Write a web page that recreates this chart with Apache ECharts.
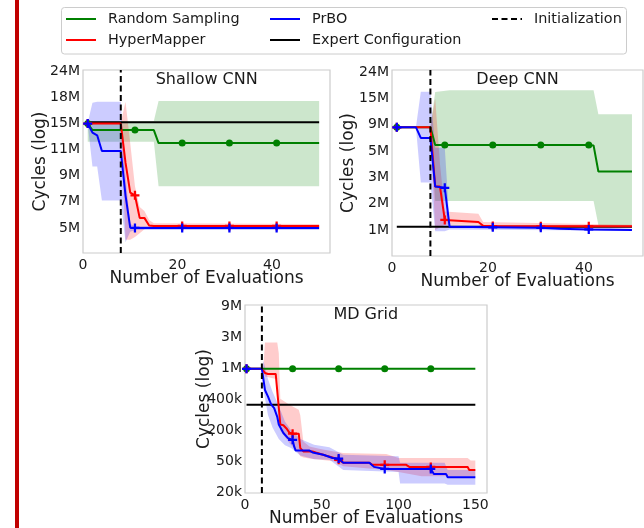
<!DOCTYPE html>
<html><head><meta charset="utf-8">
<script src="https://cdn.jsdelivr.net/npm/echarts@6.0.0/dist/echarts.min.js"></script>
<style>html,body{margin:0;padding:0;background:#fff}#c{width:644px;height:528px}</style>
</head><body><div id="c"></div>
<script>
// ---------------- DATA ----------------
// tick values (Shallow/Deep in millions of cycles, MD Grid in thousands)
const shallowTicks = [5, 7, 9, 11, 15, 18, 24];
const shallowTickLabels = ['5M', '7M', '9M', '11M', '15M', '18M', '24M'];
const deepTicks = [1, 2, 3, 5, 9, 15, 24];
const deepTickLabels = ['1M', '2M', '3M', '5M', '9M', '15M', '24M'];
const mdTicks = [20, 50, 200, 400, 1000, 3000, 9000];
const mdTickLabels = ['20k', '50k', '200k', '400k', '1M', '3M', '9M'];
const cnnXTicks = [0, 20, 40];
const mdXTicks = [0, 50, 100, 150];
const cnnMarkX = [1, 11, 21, 31, 41];
const mdMarkX = [1, 31, 61, 91, 121];
const shallowInit = 8, deepInit = 8, mdInit = 11;

// Shallow CNN  [evaluation, cycles(M)] ; bands [evaluation, low, high]
const shallowRandom = [[1,15.0],[2,14.0],[11,14.0],[15,14.0],[16,12.0],[21,12.0],[31,12.0],[41,12.0],[50,12.0]];
const shallowRandomBand = [[1,12.2,15.3],[15,12.2,15.3],[16,8.2,17.6],[50,8.2,17.6]];
const shallowHyper = [[1,15.0],[8,15.0],[9,10.0],[10,7.7],[11,7.5],[12,5.77],[13,5.77],[14,5.19],[15,5.15],[21,5.15],[31,5.15],[41,5.15],[50,5.15]];
const shallowHyperBand = [[1,14.9,15.1],[8,14.9,15.1],[9,4.1,17.5],[10,4.1,12.0],[11,4.3,8.2],[12,4.6,6.6],[13,4.9,6.3],[14,5.0,5.6],[15,5.05,5.35],[50,5.05,5.3]];
const shallowPrBO = [[1,15.0],[2,13.6],[3,13.2],[4,10.9],[8,10.9],[9,7.5],[10,5.02],[11,5.0],[21,5.0],[31,5.0],[41,5.0],[50,5.0]];
const shallowPrBOBand = [[1,14.9,15.1],[2,9.7,17.4],[3,9.7,17.5],[4,7.1,17.5],[8,7.1,17.5],[9,3.9,9.0],[10,4.7,5.3],[11,4.85,5.15],[50,4.85,5.15]];
const shallowExpert = [[1,15.15],[50,15.15]];

// Deep CNN
const deepRandom = [[1,8.6],[8,8.6],[9,5.9],[11,5.9],[21,5.9],[31,5.9],[41,5.9],[42,5.85],[43,3.44],[50,3.44]];
const deepRandomBand = [[8,8.6,8.6],[9,2.1,17.2],[12,2.1,17.8],[42,2.1,17.8],[43,1.19,11.4],[50,1.19,11.4]];
const deepHyper = [[1,8.6],[8,8.6],[9,2.65],[10,2.65],[11,1.38],[18,1.3],[19,1.16],[21,1.15],[31,1.14],[41,1.14],[50,1.14]];
const deepHyperBand = [[1,8.5,8.7],[8,8.5,8.7],[9,1.0,15.0],[10,1.1,4.0],[11,1.2,1.7],[18,1.2,1.62],[19,1.1,1.3],[50,1.08,1.2]];
const deepPrBO = [[1,8.6],[5,8.6],[6,7.0],[8,7.0],[9,2.65],[11,2.6],[12,1.12],[21,1.1],[31,1.08],[35,1.05],[41,1.02],[50,1.0]];
const deepPrBOBand = [[1,8.5,8.7],[5,8.5,8.7],[6,2.8,17.3],[8,2.8,17.3],[9,0.95,5.5],[11,0.95,5.5],[12,1.02,1.2],[50,0.97,1.05]];
const deepExpert = [[1,1.12],[50,1.12]];

// MD Grid (thousands of cycles)
const mdRandom = [[1,1000],[31,1000],[61,1000],[91,1000],[121,1000],[150,1000]];
const mdHyper = [[1,1000],[11,1000],[13,920],[15,900],[20,900],[23,240],[25,235],[27,215],[29,190],[31,186],[35,186],[36,116],[38,100],[44,100],[46,95],[53,79],[58,68],[61,59],[64,49],[81,49],[83,47],[91,47],[105,47],[107,45],[121,45],[145,45],[146,42],[150,42]];
const mdHyperBand = [[1,1000,1000],[11,1000,1000],[12,980,1100],[13,850,2700],[21,800,2700],[22,380,2000],[23,200,420],[29,140,368],[35,90,336],[36,76,300],[38,70,148],[42,65,124],[49,59,112],[58,52,100],[64,45.5,92],[92,42,87],[100,40,68],[115,36,68],[145,36,68],[147,36,56],[150,36,56]];
const mdPrBO = [[1,1000],[11,1000],[13,590],[15,460],[17,370],[19,346],[21,290],[22,240],[25,189],[28,164],[31,156],[32,124],[33,104],[42,104],[44,95],[51,84],[57,68],[61,65],[64,49],[81,49],[84,45],[91,43],[121,43],[123,38],[131,38],[132,35],[150,35]];
const mdPrBOBand = [[1,1000,1000],[11,1000,1000],[12,600,1500],[15,300,800],[18,220,550],[22,160,360],[26,130,260],[30,116,204],[36,80,160],[45,62,132],[55,59,120],[64,42,84],[100,40,76],[101,29,49],[130,29,49],[132,27.7,42],[150,27.7,42]];
const mdExpert = [[1,368],[150,368]];

// ---------------- HELPERS ----------------
const FONT = 'DejaVu Sans';
const TXT = '#1a1a1a';
function toIdx(v, ticks) {
  const n = ticks.length;
  let i;
  if (v <= ticks[0]) i = 0;
  else if (v >= ticks[n - 1]) i = n - 2;
  else { i = 0; while (!(v >= ticks[i] && v <= ticks[i + 1])) i++; }
  return i + (v - ticks[i]) / (ticks[i + 1] - ticks[i]);
}
const PLUS = 'path://M3,0h2v3h3v2h-3v3h-2v-3h-3v-2h3z';

const panels = [
  { grid: {left: 83, top: 70, width: 247, height: 183}, xMax: 52.3, yMin: -0.96, yMax: 6.05,
    ticks: shallowTicks, tickLabels: shallowTickLabels, xInterval: 20, marks: cnnMarkX, init: shallowInit,
    title: 'Shallow CNN', titlePos: [206.7, 80], yNameGap: 34,
    random: shallowRandom, randomBand: shallowRandomBand, hyper: shallowHyper, hyperBand: shallowHyperBand,
    prbo: shallowPrBO, prboBand: shallowPrBOBand, expert: shallowExpert },
  { grid: {left: 392, top: 70, width: 251, height: 186}, xMax: 52.3, yMin: -0.99, yMax: 6.08,
    ticks: deepTicks, tickLabels: deepTickLabels, xInterval: 20, marks: cnnMarkX, init: deepInit,
    title: 'Deep CNN', titlePos: [517.5, 80], yNameGap: 35,
    random: deepRandom, randomBand: deepRandomBand, hyper: deepHyper, hyperBand: deepHyperBand,
    prbo: deepPrBO, prboBand: deepPrBOBand, expert: deepExpert },
  { grid: {left: 245, top: 305, width: 242, height: 188}, xMax: 157.6, yMin: -0.01, yMax: 6.06,
    ticks: mdTicks, tickLabels: mdTickLabels, xInterval: 50, marks: mdMarkX, init: mdInit,
    title: 'MD Grid', titlePos: [365.8, 315], yNameGap: 32,
    random: mdRandom, randomBand: null, hyper: mdHyper, hyperBand: mdHyperBand,
    prbo: mdPrBO, prboBand: mdPrBOBand, expert: mdExpert }
];

const grids = [], xAxes = [], yAxes = [], series = [], graphics = [];

function bandSeries(gi, arr, ticks, fill) {
  const pts = arr.map(d => [d[0], toIdx(d[1], ticks), toIdx(d[2], ticks)]);
  return {
    type: 'custom', name: '_band' + gi + fill, xAxisIndex: gi, yAxisIndex: gi, data: pts, silent: true, z: 1,
    encode: {x: 0, y: [1, 2]}, animation: false,
    renderItem(params, api) {
      if (params.dataIndex !== 0) return null;
      const up = pts.map(p => api.coord([p[0], p[2]]));
      const lo = pts.map(p => api.coord([p[0], p[1]])).reverse();
      return {type: 'polygon', shape: {points: up.concat(lo)}, style: {fill: fill}};
    }
  };
}
function lineSeries(gi, name, arr, ticks, color, marks, sym, size, z) {
  return {
    type: 'line', name: name, xAxisIndex: gi, yAxisIndex: gi, z: z, animation: false,
    data: arr.map(d => [d[0], toIdx(d[1], ticks)]),
    lineStyle: {width: 2, color: color}, itemStyle: {color: color},
    symbol: marks ? (v => marks.indexOf(v[0]) >= 0 ? sym : 'none') : 'none',
    symbolSize: size, showSymbol: !!marks, showAllSymbol: true, emphasis: {disabled: true}
  };
}

panels.forEach((p, gi) => {
  grids.push(Object.assign({show: true, borderColor: '#cccccc', borderWidth: 1.2, containLabel: false, outerBoundsMode: 'none'}, p.grid));
  xAxes.push({
    type: 'value', gridIndex: gi, min: 0, max: p.xMax, interval: p.xInterval,
    name: 'Number of Evaluations', nameLocation: 'middle', nameGap: 17, nameMoveOverlap: false,
    nameTextStyle: {fontFamily: FONT, fontSize: 17, color: TXT},
    axisLine: {show: false}, axisTick: {show: false}, splitLine: {show: false},
    axisLabel: {fontFamily: FONT, fontSize: 14, color: TXT, margin: 5, showMaxLabel: false}
  });
  yAxes.push({
    type: 'value', gridIndex: gi, min: p.yMin, max: p.yMax,
    name: 'Cycles (log)', nameLocation: 'middle', nameGap: p.yNameGap, nameRotate: 90, nameMoveOverlap: false,
    nameTextStyle: {fontFamily: FONT, fontSize: 17, color: TXT},
    axisLine: {show: false}, axisTick: {show: false}, splitLine: {show: false},
    axisLabel: {fontFamily: FONT, fontSize: 14, color: TXT, margin: 3,
      customValues: [0, 1, 2, 3, 4, 5, 6], formatter: v => p.tickLabels[Math.round(v)]}
  });
  if (p.randomBand) series.push(bandSeries(gi, p.randomBand, p.ticks, 'rgba(0,128,0,0.2)'));
  series.push(bandSeries(gi, p.hyperBand, p.ticks, 'rgba(255,0,0,0.2)'));
  series.push(bandSeries(gi, p.prboBand, p.ticks, 'rgba(0,0,255,0.2)'));
  series.push(lineSeries(gi, 'Expert Configuration', p.expert, p.ticks, '#000000', null, null, 0, 3));
  series.push(lineSeries(gi, 'Random Sampling', p.random, p.ticks, '#008000', p.marks, 'circle', 7, 4));
  series.push(lineSeries(gi, 'HyperMapper', p.hyper, p.ticks, '#ff0000', p.marks, PLUS, 9, 5));
  series.push(lineSeries(gi, 'PrBO', p.prbo, p.ticks, '#0000ff', p.marks, PLUS, 9, 6));
  series.push({
    type: 'line', name: 'Initialization', xAxisIndex: gi, yAxisIndex: gi, z: 7, animation: false,
    data: [[p.init, p.yMin], [p.init, p.yMax]], symbol: 'none',
    lineStyle: {width: 2, color: '#000000', type: [6, 3.5]}, itemStyle: {color: '#000000'}
  });
  graphics.push({type: 'text', x: p.titlePos[0], y: p.titlePos[1], z: 10,
    style: {text: p.title, font: '16px "DejaVu Sans"', fill: TXT, textAlign: 'center', textVerticalAlign: 'middle'}});
});

const SOLID = 'path://M0,0h30v2h-30z';
const DASH = 'path://M0,0h6v2h-6z M9.5,0h6v2h-6z M19,0h6v2h-6z M28.5,0h1.5v2h-1.5z';
function legendCol(left, items) {
  return {
    left: left, top: 11, orient: 'vertical', padding: 0, itemGap: 5, itemWidth: 30, itemHeight: 2,
    textStyle: {fontFamily: FONT, fontSize: 14.4, color: TXT, lineHeight: 16, padding: [0, 0, 0, 7]},
    data: items.map(n => ({name: n, icon: n === 'Initialization' ? DASH : SOLID})),
    selectedMode: false
  };
}

graphics.push({type: 'rect', shape: {x: 15, y: 0, width: 4, height: 528}, style: {fill: '#c00000'}, z: 10});
graphics.push({type: 'rect', shape: {x: 61.5, y: 7.5, width: 565, height: 46.5, r: 3}, style: {fill: '#ffffff', stroke: '#cccccc', lineWidth: 1}, z: 0});

const chart = echarts.init(document.getElementById('c'), null, {renderer: 'canvas'});
chart.setOption({
  backgroundColor: '#ffffff',
  animation: false,
  grid: grids, xAxis: xAxes, yAxis: yAxes, series: series,
  legend: [
    legendCol(66, ['Random Sampling', 'HyperMapper']),
    legendCol(270, ['PrBO', 'Expert Configuration']),
    legendCol(492, ['Initialization'])
  ],
  graphic: graphics
});
</script></body></html>
